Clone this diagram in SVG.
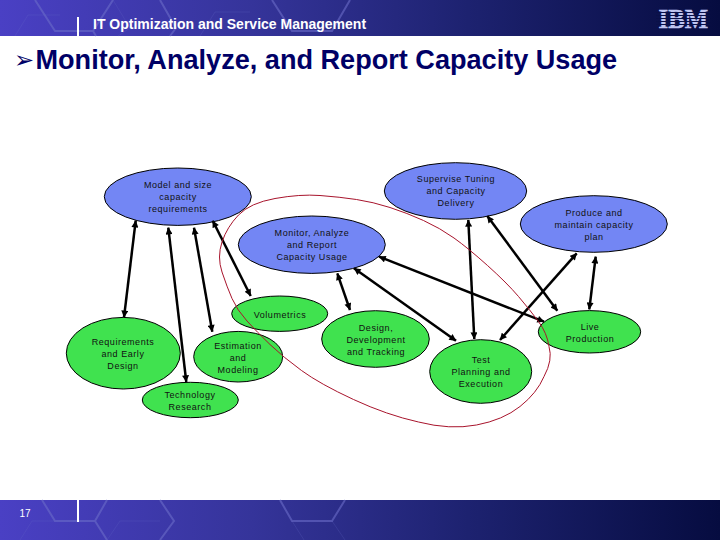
<svg xmlns="http://www.w3.org/2000/svg" width="720" height="540" viewBox="0 0 720 540">
<style>
.n text{font-family:"Liberation Sans",Arial,sans-serif;font-size:9px;letter-spacing:.55px;fill:#111;text-anchor:middle}
.b{fill:#7386f4;stroke:#000;stroke-width:1}
.g{fill:#40e24f;stroke:#000;stroke-width:1}
.c line{stroke:#000;stroke-width:2.5;marker-start:url(#ah);marker-end:url(#ah)}
.h{fill:none;stroke:#6a6cc8;stroke-width:2;opacity:.6}
.f{fill:none;stroke:#6a6cc8;stroke-width:1;opacity:.22}
</style>
<defs>
<linearGradient id="bar" x1="0" x2="1" y1="0" y2="0"><stop offset="0" stop-color="#4a40c4"/><stop offset=".35" stop-color="#35349a"/><stop offset=".65" stop-color="#1d2270"/><stop offset="1" stop-color="#060c40"/></linearGradient>
<marker id="ah" viewBox="0 0 10 10" refX="9.5" refY="5" markerWidth="8" markerHeight="7" markerUnits="userSpaceOnUse" orient="auto-start-reverse"><path d="M0 0L10 5L0 10z" fill="#000"/></marker>
</defs>
<rect width="720" height="540" fill="#fff"/>
<g id="header">
<rect width="720" height="36" fill="url(#bar)"/>
<path class="f" d="M15 36L28 15H60M113 0L130 28L118 36M200 36L215 12H250"/>
<path class="h" d="M35 0L55 31H93L113 0M93 31L96 36M160 0L176 28L170 36M272 0L292 31H332L350 0"/>
<rect x="77" y="17" width="2" height="19" fill="#fff"/>
<text x="93" y="29" font-family="Liberation Sans,Arial,sans-serif" font-size="14px" font-weight="700" fill="#fff">IT Optimization and Service Management</text>
<text x="658.5" y="28" font-family="Liberation Serif,serif" font-size="28px" font-weight="700" fill="#c0c6f2" stroke="#c0c6f2" stroke-width=".5" textLength="49.5" lengthAdjust="spacingAndGlyphs">IBM</text>
<path d="M656 12.5h54M656 15.5h54M656 18.5h54M656 21.5h54M656 24.5h54" stroke="#0a1048" stroke-width="1"/>
</g>
<g id="title"><text x="14" y="68" font-family="DejaVu Sans,sans-serif" font-size="24px" fill="#000066">➢</text><text x="35.5" y="68.5" font-family="Liberation Sans,Arial,sans-serif" font-size="27.1px" font-weight="700" fill="#000066">Monitor, Analyze, and Report Capacity Usage</text></g>
<g id="footer">
<rect y="500" width="720" height="40" fill="url(#bar)"/>
<path class="f" d="M20 540L32 521H55M107 540L120 521H160M292 521L304 540M345 540L332 521"/>
<path class="h" d="M42 500L55 521H95L107 500M95 521L107 540M160 500L174 521L160 540M280 500L292 521H332L345 500"/>
<rect x="77" y="500" width="2" height="22" fill="#fff"/>
<text x="25" y="517" font-family="Liberation Sans,Arial,sans-serif" font-size="10px" fill="#fff" text-anchor="middle">17</text>
</g>
<g class="n" id="model"><ellipse class="b" cx="177.8" cy="196.7" rx="73.5" ry="28.7"/><text x="178" y="188">Model and size</text><text x="178" y="200">capacity</text><text x="178" y="212">requirements</text></g>
<g class="n" id="monitor"><ellipse class="b" cx="311.8" cy="244.7" rx="73.5" ry="28.7"/><text x="312" y="236">Monitor, Analyze</text><text x="312" y="248">and Report</text><text x="312" y="260">Capacity Usage</text></g>
<g class="n" id="supervise"><ellipse class="b" cx="455.5" cy="191" rx="71.2" ry="28.3"/><text x="456" y="182">Supervise Tuning</text><text x="456" y="194">and Capacity</text><text x="456" y="206">Delivery</text></g>
<g class="n" id="produce"><ellipse class="b" cx="593.8" cy="224" rx="73.5" ry="28.3"/><text x="594" y="216">Produce and</text><text x="594" y="228">maintain capacity</text><text x="594" y="240">plan</text></g>
<g class="n" id="volumetrics"><ellipse class="g" cx="279.7" cy="313.7" rx="48" ry="17.7"/><text x="280" y="318">Volumetrics</text></g>
<g class="n" id="requirements"><ellipse class="g" cx="123.3" cy="353.2" rx="57" ry="35.8"/><text x="123" y="345">Requirements</text><text x="123" y="357">and Early</text><text x="123" y="369">Design</text></g>
<g class="n" id="estimation"><ellipse class="g" cx="238.2" cy="356.7" rx="44.5" ry="25.3"/><text x="238" y="349">Estimation</text><text x="238" y="361">and</text><text x="238" y="373">Modeling</text></g>
<g class="n" id="technology"><ellipse class="g" cx="190.3" cy="400" rx="48" ry="17.7"/><text x="190" y="398">Technology</text><text x="190" y="410">Research</text></g>
<g class="n" id="design"><ellipse class="g" cx="375.5" cy="339" rx="53.8" ry="28.3"/><text x="376" y="331">Design,</text><text x="376" y="343">Development</text><text x="376" y="355">and Tracking</text></g>
<g class="n" id="test"><ellipse class="g" cx="480.7" cy="371.5" rx="51" ry="31.8"/><text x="481" y="363">Test</text><text x="481" y="375">Planning and</text><text x="481" y="387">Execution</text></g>
<g class="n" id="live"><ellipse class="g" cx="589.5" cy="331.8" rx="51.2" ry="21.2"/><text x="590" y="330">Live</text><text x="590" y="342">Production</text></g>
<g class="c" id="connectors">
<line x1="135.7" y1="220.7" x2="124" y2="317.3"/>
<line x1="168.3" y1="227.7" x2="186.3" y2="382"/>
<line x1="194" y1="227.7" x2="212.3" y2="331.7"/>
<line x1="212.7" y1="220.7" x2="250.7" y2="296"/>
<line x1="337.3" y1="273.3" x2="350" y2="310"/>
<line x1="354" y1="268.3" x2="456" y2="340.7"/>
<line x1="379" y1="256.7" x2="544" y2="321.7"/>
<line x1="468.3" y1="220" x2="474.3" y2="339"/>
<line x1="487.3" y1="216" x2="557.3" y2="310.7"/>
<line x1="576.7" y1="253.3" x2="500" y2="340"/>
<line x1="595.7" y1="256.7" x2="589.3" y2="309.3"/>
</g>
<path id="boundary" fill="none" stroke="#a8142c" stroke-width="1" d="M320 195.5Q340 197 356.5 199.5Q373 202 390 207.5Q407 213 423.5 220.5Q440 228 454 238Q468 248 487.5 265.5Q507 283 518.5 296.5Q530 310 538.5 321.5Q547 333 549 346.5Q553 360 544 376.5Q537 393 520 406.5Q503 420 476.5 425Q450 430 418.5 422Q387 415 353.5 399.5Q320 384 301.5 370.5Q283 357 270 344.5Q257 332 247 321Q237 310 232 298.5Q227 287 222 272Q217 257 222 242Q227 227 238.5 215Q250 203 275 198.5Q300 194 320 195.5Z"/>
</svg>
